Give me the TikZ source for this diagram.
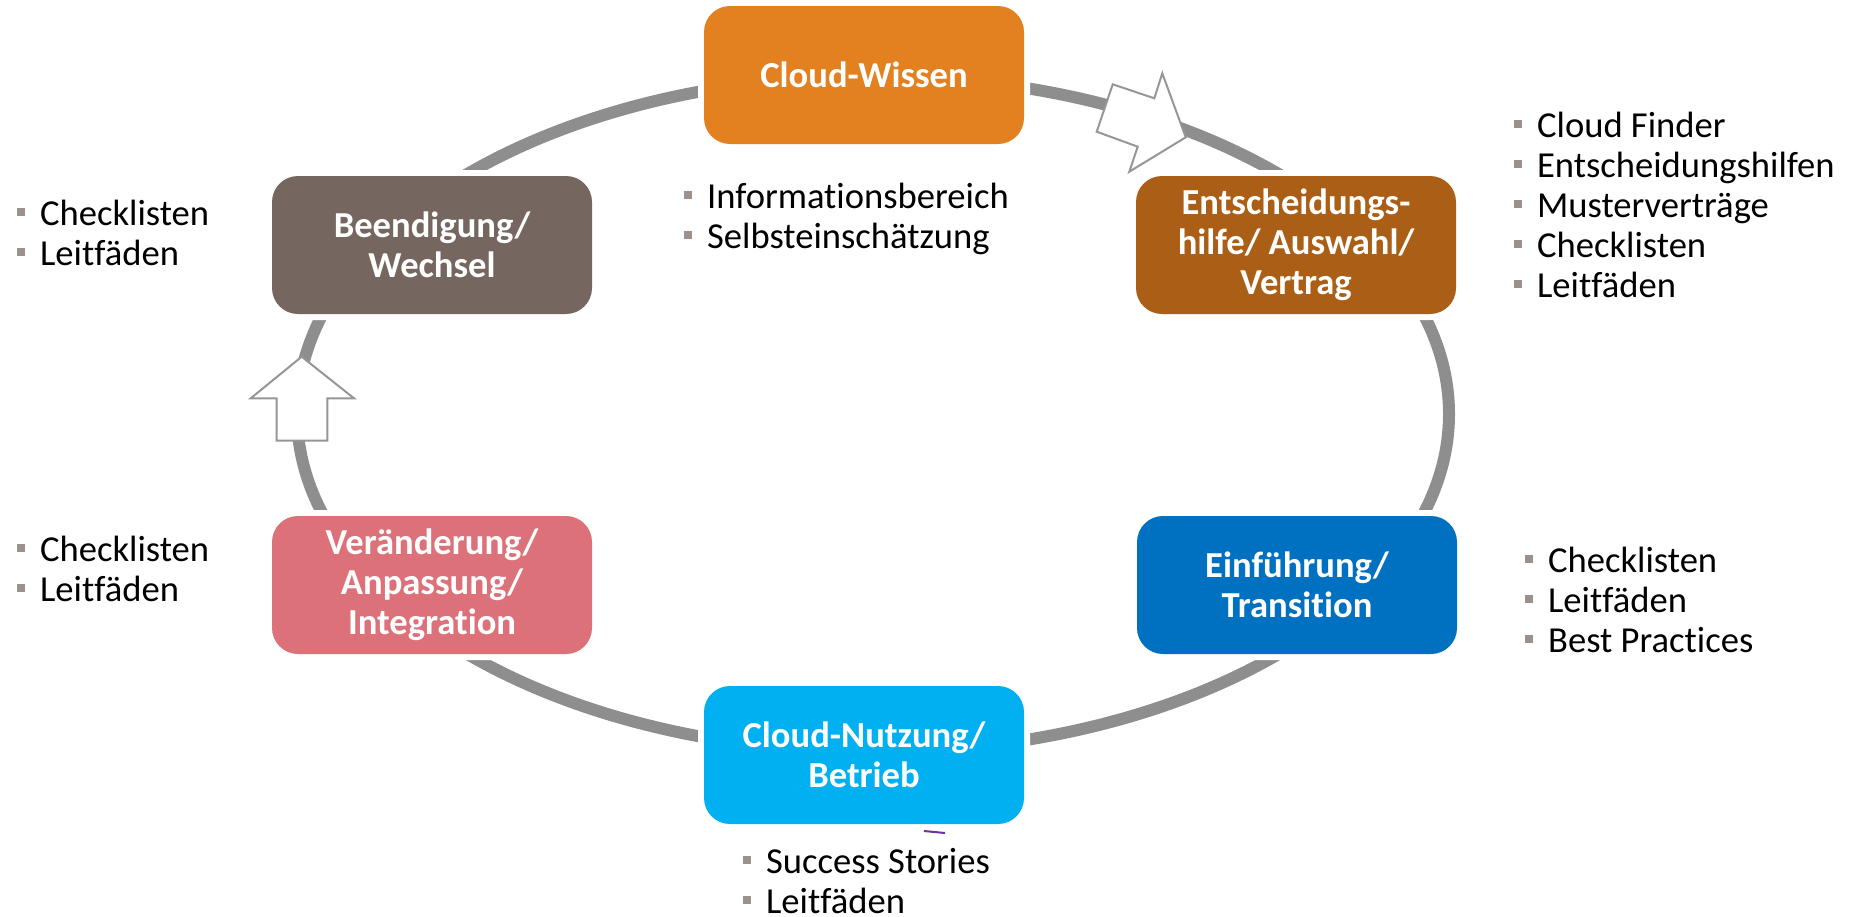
\documentclass[tikz,border=0pt]{standalone}
\usepackage{fontspec}
\setmainfont{Carlito}[Ligatures={NoCommon}]
\definecolor{ringc}{RGB}{142,142,142}
\definecolor{arrowc}{RGB}{150,150,150}
\definecolor{cwissen}{RGB}{227,128,31}
\definecolor{centsch}{RGB}{171,94,22}
\definecolor{ceinf}{RGB}{0,112,192}
\definecolor{cnutz}{RGB}{0,176,240}
\definecolor{cveraend}{RGB}{221,113,122}
\definecolor{cbeend}{RGB}{117,102,96}
\definecolor{bulletc}{RGB}{155,145,140}
\definecolor{markc}{RGB}{112,48,160}
\newcommand\blt{\textcolor{bulletc}{\rule[0.25em]{0.22em}{0.22em}}\hspace{0.40em}}
\newcommand\lst[1]{\begin{tabular}[t]{@{}l@{}}#1\end{tabular}}
\tikzset{
  box/.style={rounded corners=13pt, minimum width=160pt, minimum height=69pt,
    inner sep=0pt, text=white, font=\bfseries\fontsize{18.3}{20}\selectfont,
    align=center, preaction={draw=white, line width=6pt}},
  list/.style={anchor=base west, inner sep=0pt,
    font=\fontsize{18.3}{20}\selectfont},
  ring/.style={draw=ringc, line width=6pt},
  blockarrow/.style={fill=white, draw=arrowc, line width=1pt, line join=miter},
}
\begin{document}
\begin{tikzpicture}[x=0.5pt, y=-0.5pt]
\useasboundingbox (0,0) rectangle (1850,916);
% ring
\draw[ring] (873,414) ellipse [x radius=288pt, y radius=169pt];
% block arrows
\draw[blockarrow] (1112.7,84.3) -- (1154.3,98.3) -- (1162.3,73.3) -- (1185.7,137.3)
  -- (1129.3,171.7) -- (1137.7,146.7) -- (1096.7,131.7) -- cycle;
\draw[blockarrow] (301.7,356.7) -- (354,398.3) -- (327.3,398.3) -- (327.3,440.7)
  -- (276.7,440.7) -- (276.7,398.3) -- (250.7,398.3) -- cycle;
% boxes
\node[box, fill=cwissen]  (wissen)  at (864,75)    {Cloud-Wissen};
\node[box, fill=centsch]  (entsch)  at (1296,245)  {Entscheidungs-\\hilfe/ Auswahl/\\Vertrag};
\node[box, fill=ceinf]    (einf)    at (1297,585)  {Einführung/\\Transition};
\node[box, fill=cnutz]    (nutz)    at (864,755)   {Cloud-Nutzung/\\Betrieb};
\node[box, fill=cveraend] (veraend) at (432,585)   {Veränderung/\\Anpassung/\\Integration};
\node[box, fill=cbeend]   (beend)   at (432,245)   {Beendigung/\\Wechsel};
% small mark
\draw[markc, line width=1pt] (924,831) -- (945,833);
% lists
\node[list] (lwissen) at (684,208) {\lst{\blt Informationsbereich\\\blt Selbsteinschätzung}};
\node[list] (lentsch) at (1514,137) {\lst{\blt Cloud Finder\\\blt Entscheidungshilfen\\\blt Musterverträge\\\blt Checklisten\\\blt Leitfäden}};
\node[list] (lbeend) at (17,225) {\lst{\blt Checklisten\\\blt Leitfäden}};
\node[list] (lveraend) at (17,561) {\lst{\blt Checklisten\\\blt Leitfäden}};
\node[list] (leinf) at (1525,572) {\lst{\blt Checklisten\\\blt Leitfäden\\\blt Best Practices}};
\node[list] (lnutz) at (743,873) {\lst{\blt Success Stories\\\blt Leitfäden}};
\end{tikzpicture}
\end{document}
